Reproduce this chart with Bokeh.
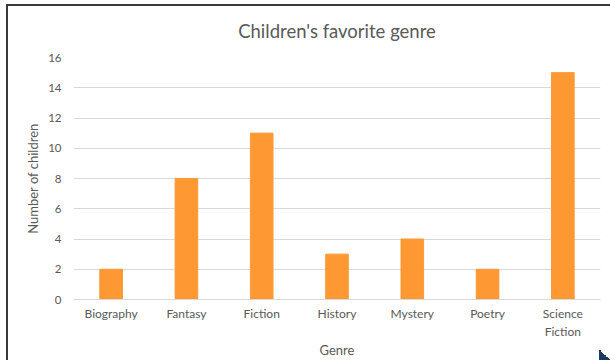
from bokeh.plotting import figure
from bokeh.models import Range1d, FixedTicker
from bokeh.embed import file_html
from bokeh.resources import INLINE

title_text = "Children's favorite genre"
genres = ["Biography", "Fantasy", "Fiction", "History", "Mystery", "Poetry", "Science Fiction"]
tick_labels = ["Biography", "Fantasy", "Fiction", "History", "Mystery", "Poetry", "Science\nFiction"]
counts = [2, 8, 11, 3, 4, 2, 15]
y_ticks = [0, 2, 4, 6, 8, 10, 12, 14, 16]

FONT = "Lato"
TXT = "#595959"
GRID = "#d9d9d9"

xpos = list(range(len(genres)))

p = figure(width=610, height=360, output_backend="svg", toolbar_location=None,
           title=title_text,
           min_border_left=73, min_border_right=10, min_border_top=57, min_border_bottom=61)
p.margin = 0
p.border_fill_color = None
p.background_fill_color = "white"
# slide frame: dark line along the top and left edges, small dark corner marker
p.styles = {"box-shadow": "inset 6px 4px 0 0 #ffffff, inset 8px 6px 0 0 #3a3a3a",
            "background": "linear-gradient(to top right, #1f3a5f 50%, transparent 50%) "
                          "no-repeat right 0 bottom 0 / 11px 11px, white"}

p.vbar(x=xpos, top=counts, width=0.3, color="#FD9833")

p.x_range = Range1d(-0.5, len(genres) - 0.5)
p.y_range = Range1d(0, 16)
p.yaxis.ticker = FixedTicker(ticks=y_ticks)
p.xaxis.ticker = FixedTicker(ticks=xpos)
p.xaxis.major_label_overrides = {i: lab for i, lab in zip(xpos, tick_labels)}

p.title.align = "center"
p.title.text_font = FONT
p.title.text_font_size = "18.5px"
p.title.text_font_style = "normal"
p.title.text_color = TXT
p.title.standoff = 32

p.outline_line_color = None
p.xgrid.grid_line_color = None
p.ygrid.grid_line_color = GRID

for ax in (p.xaxis, p.yaxis):
    ax.major_tick_line_color = None
    ax.minor_tick_line_color = None
    ax.major_label_text_font = FONT
    ax.major_label_text_color = TXT
    ax.axis_label_text_font = FONT
    ax.axis_label_text_font_size = "13px"
    ax.axis_label_text_font_style = "normal"
    ax.axis_label_text_color = TXT

p.xaxis.major_label_text_font_size = "12px"
p.yaxis.major_label_text_font_size = "11.5px"
p.yaxis.axis_line_color = None
p.xaxis.axis_line_color = GRID
p.yaxis.axis_label = "Number of children"
p.xaxis.axis_label = "Genre"
p.yaxis.major_label_standoff = 6
p.xaxis.major_label_standoff = 0
p.xaxis.axis_label_standoff = 0
p.yaxis.axis_label_standoff = 4

open("out.html", "w").write(file_html(p, INLINE))
